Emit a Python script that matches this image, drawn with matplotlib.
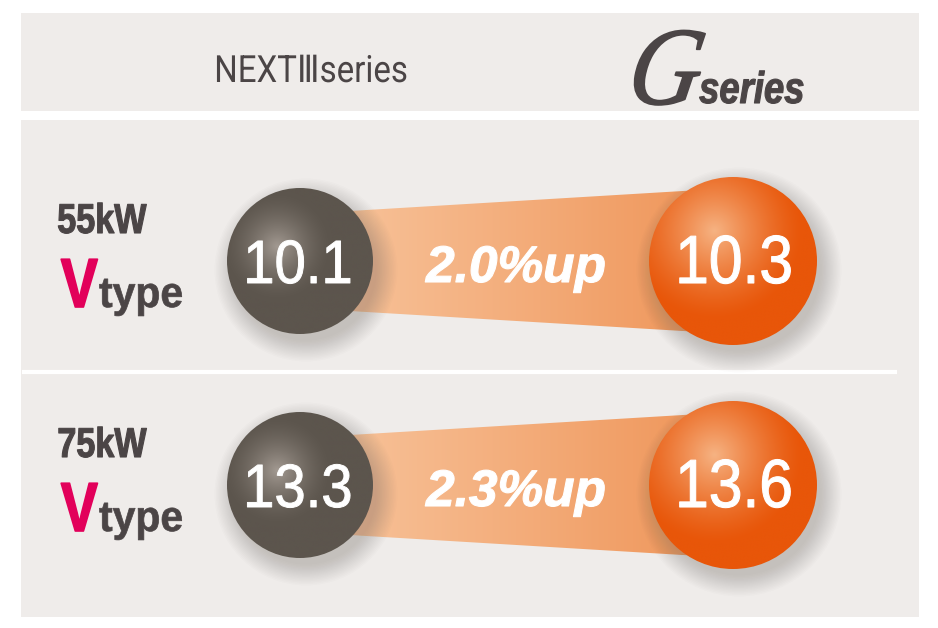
import numpy as np
import matplotlib
matplotlib.use("Agg")
import matplotlib.pyplot as plt
import matplotlib.patheffects as pe
from matplotlib.patches import Rectangle, Circle, Polygon
from matplotlib.transforms import Affine2D
from matplotlib.colors import to_rgb

# data
ratings      = ["55kW", "75kW"]
type_mark    = "V"
type_word    = "type"
next3_values = [10.1, 13.3]
g_values     = [10.3, 13.6]
header_left  = "NEXTⅢseries"
header_g     = "G"
header_right = "series"

# layout (pixels, y grows downward)
W, H      = 938, 628
row_y     = [261, 485]
left_x    = 300
left_r    = 73
right_x   = 733
right_r   = 84

# colours
panel_col   = "#efecea"
text_col    = "#4b4546"
magenta     = "#e2005a"
dark_base   = "#5c554d"
dark_light  = "#a39a92"
orange_base = "#e85609"
orange_lite = "#f6b383"
band_left   = "#f8c7a0"
band_right  = "#ef9356"


class Narrow(pe.AbstractPathEffect):
    # squeeze / slant / embolden text (the reference uses a condensed face)
    def __init__(self, sx=0.85, anchor="center", skew=0, lw=0):
        super().__init__()
        self.sx     = sx
        self.anchor = anchor
        self.skew   = skew
        self.lw     = lw

    def draw_path(self, renderer, gc, tpath, affine, rgbFace=None):
        ext = tpath.get_extents(affine)
        if self.anchor == "left":
            x0 = ext.x0
        elif self.anchor == "right":
            x0 = ext.x1
        else:
            x0 = (ext.x0 + ext.x1) / 2
        y0 = ext.y0
        t = affine + (Affine2D().translate(-x0, -y0).scale(self.sx, 1)
                      .skew_deg(self.skew, 0).translate(x0, y0))
        gc0 = renderer.new_gc()
        gc0.copy_properties(gc)
        if self.lw and rgbFace is not None:
            gc0.set_linewidth(self.lw)
            gc0.set_foreground(rgbFace)
            gc0.set_joinstyle("round")
        renderer.draw_path(gc0, tpath, t, rgbFace)
        gc0.restore()


def sphere(ax, cx, cy, r, base, light, hx, hy, spread, power):
    # soft drop shadow, mostly below right
    for k in range(16, 0, -1):
        ax.add_patch(Circle((cx + 6, cy + 9), r + k * 1.4 - 4,
            facecolor="#6a625c", edgecolor="none", alpha=0.018, zorder=3))

    n  = 400
    xs = np.linspace(cx - r, cx + r, n)
    ys = np.linspace(cy - r, cy + r, n)
    X, Y = np.meshgrid(xs, ys)
    d  = np.hypot(X - (cx + hx * r), Y - (cy + hy * r)) / (spread * r)
    w  = (1 - np.clip(d, 0, 1)) ** power
    b  = np.array(to_rgb(base))
    l  = np.array(to_rgb(light))
    img = b[None, None, :] * (1 - w[..., None]) + l[None, None, :] * w[..., None]

    clip = Circle((cx, cy), r, facecolor="none", edgecolor="none", zorder=4)
    ax.add_patch(clip)
    im = ax.imshow(img, origin="lower", extent=(cx - r, cx + r, cy - r, cy + r),
                   aspect="auto", interpolation="bilinear", zorder=4)
    im.set_clip_path(clip)


def band(ax, cy):
    x0, x1 = left_x, right_x
    h0, h1 = 47, 73
    poly = Polygon([(x0, cy - h0), (x1, cy - h1), (x1, cy + h1), (x0, cy + h0)],
                   closed=True, facecolor="none", edgecolor="none", zorder=2)
    ax.add_patch(poly)
    a = np.array(to_rgb(band_left))
    b = np.array(to_rgb(band_right))
    t = np.linspace(0, 1, 300)
    img = (a[None, :] * (1 - t[:, None]) + b[None, :] * t[:, None])[None, :, :]
    im = ax.imshow(img, origin="lower", extent=(x0, x1, cy - h1, cy + h1),
                   aspect="auto", interpolation="bilinear", zorder=2)
    im.set_clip_path(poly)


fig = plt.figure(figsize=(W / 100, H / 100), dpi=100)
fig.patch.set_facecolor("white")
ax = fig.add_axes([0, 0, 1, 1])
ax.set_axis_off()

# panels
ax.add_patch(Rectangle((21, 13), 898, 98, facecolor=panel_col, edgecolor="none", zorder=0))
ax.add_patch(Rectangle((21, 120), 898, 497, facecolor=panel_col, edgecolor="none", zorder=0))
ax.plot([22, 897], [372, 372], color="white", lw=3, solid_capstyle="butt", zorder=1)

# header
ax.text(311, 82, header_left, ha="center", va="baseline", fontsize=27,
        family=["Roboto", "DejaVu Sans"], color=text_col,
        path_effects=[Narrow(0.88)], zorder=5)
ax.text(697, 104, header_g, ha="right", va="baseline", fontsize=80,
        family="Liberation Serif", style="italic", color=text_col,
        path_effects=[Narrow(0.9, "right", skew=10, lw=1.2)], zorder=5)
ax.text(699, 103, header_right, ha="left", va="baseline", fontsize=32,
        family="Liberation Sans", style="italic", weight="bold", color=text_col,
        path_effects=[Narrow(0.82, "left", lw=0.8)], zorder=5)

for i, cy in enumerate(row_y):
    gain = (g_values[i] / next3_values[i] - 1) * 100

    # row labels
    ax.text(57, cy - 28, ratings[i], ha="left", va="baseline", fontsize=30,
            family="Liberation Sans", weight="bold", color=text_col,
            path_effects=[Narrow(0.82, "left", lw=0.8)], zorder=5)
    ax.text(98, cy + 46, type_mark, ha="right", va="baseline", fontsize=50,
            family="Liberation Sans", weight="bold", color=magenta,
            path_effects=[Narrow(0.8, "right", lw=1.2)], zorder=5)
    ax.text(99, cy + 46, type_word, ha="left", va="baseline", fontsize=31,
            family="Liberation Sans", weight="bold", color=text_col,
            path_effects=[Narrow(0.95, "left", lw=0.5)], zorder=5)

    band(ax, cy)
    sphere(ax, left_x, cy, left_r, dark_base, dark_light, -0.31, -0.2, 0.75, 1.6)
    sphere(ax, right_x, cy, right_r, orange_base, orange_lite, -0.22, -0.36, 1.05, 1.3)

    ax.text(left_x - 2, cy + 22, f"{next3_values[i]:.1f}", ha="center", va="baseline",
            fontsize=44, family="Liberation Sans", color="white",
            path_effects=[Narrow(0.92, lw=0.7)], zorder=6)
    ax.text(right_x + 1, cy + 22, f"{g_values[i]:.1f}", ha="center", va="baseline",
            fontsize=49, family="Liberation Sans", color="white",
            path_effects=[Narrow(0.89, lw=0.8)], zorder=6)
    ax.text(516, cy + 21, f"{gain:.1f}%up", ha="center", va="baseline", fontsize=37,
            family="Liberation Sans", style="italic", weight="bold", color="white",
            path_effects=[Narrow(1.0, lw=0.8)], zorder=6)

ax.set_xlim(0, W)
ax.set_ylim(H, 0)

fig.savefig("out.png", dpi=100, facecolor="white")
